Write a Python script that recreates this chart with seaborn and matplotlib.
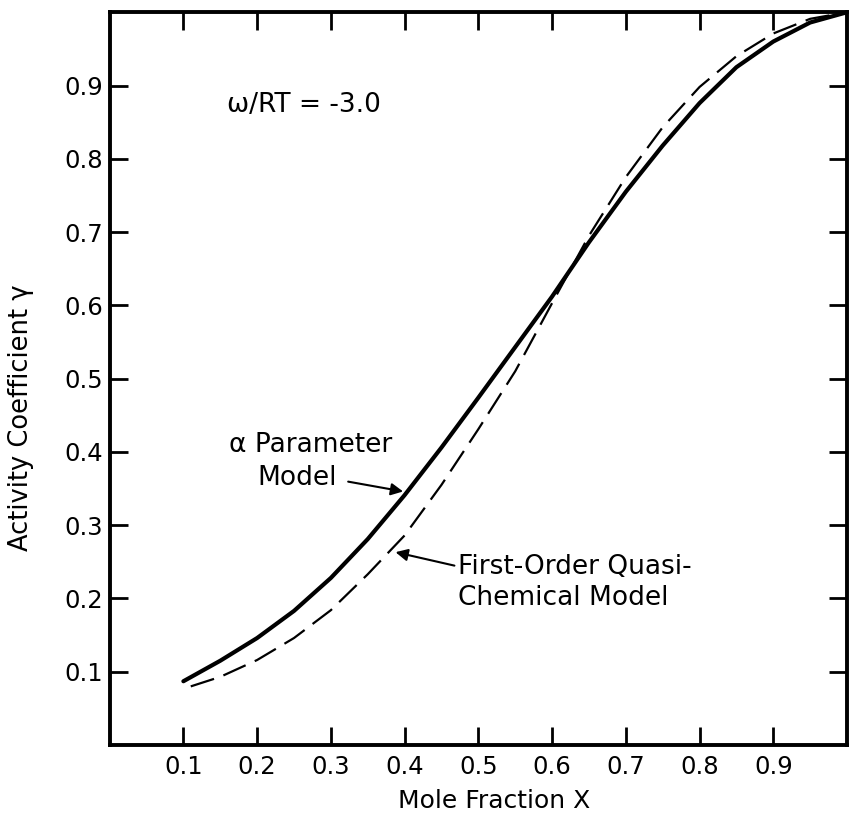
import numpy as np
import pandas as pd
import matplotlib
matplotlib.use("Agg")
import matplotlib.pyplot as plt
import seaborn as sns

# Data
x_alpha = [0.10, 0.15, 0.20, 0.25, 0.30, 0.35, 0.40, 0.45, 0.50, 0.55,
           0.60, 0.65, 0.70, 0.75, 0.80, 0.85, 0.90, 0.95, 1.00]
gamma_alpha = [0.087, 0.115, 0.146, 0.183, 0.228, 0.281, 0.341, 0.406, 0.474, 0.543,
               0.612, 0.686, 0.755, 0.818, 0.876, 0.925, 0.960, 0.986, 1.000]

x_quasi = [0.11, 0.15, 0.20, 0.25, 0.30, 0.35, 0.40, 0.45, 0.50, 0.55,
           0.60, 0.65, 0.70, 0.75, 0.80, 0.85, 0.90, 0.95, 1.00]
gamma_quasi = [0.080, 0.093, 0.116, 0.146, 0.184, 0.233, 0.286, 0.355, 0.431, 0.510,
               0.603, 0.695, 0.775, 0.843, 0.898, 0.940, 0.971, 0.991, 1.000]

tick_vals = [0.1, 0.2, 0.3, 0.4, 0.5, 0.6, 0.7, 0.8, 0.9]
tick_labels = ["0.1", "0.2", "0.3", "0.4", "0.5", "0.6", "0.7", "0.8", "0.9"]

df_alpha = pd.DataFrame({"x": x_alpha, "gamma": gamma_alpha})
df_quasi = pd.DataFrame({"x": x_quasi, "gamma": gamma_quasi})

sns.set_theme(style="ticks")
plt.rcParams["font.family"] = ["DejaVu Sans"]
plt.rcParams["text.color"] = "black"
plt.rcParams["axes.labelcolor"] = "black"
plt.rcParams["xtick.color"] = "black"
plt.rcParams["ytick.color"] = "black"

fig = plt.figure(figsize=(8.5, 8.16), dpi=100)
ax = fig.add_axes([0.129, 0.087, 0.8675, 0.898])

sns.lineplot(data=df_alpha, x="x", y="gamma", ax=ax, color="black",
             linewidth=3.0, sort=True, estimator=None)
sns.lineplot(data=df_quasi, x="x", y="gamma", ax=ax, color="black",
             linewidth=1.6, sort=True, estimator=None)
ax.lines[-1].set_dashes([11, 4.5])
for ln in ax.lines:
    ln.set_solid_capstyle("round")
    ln.set_solid_joinstyle("round")

ax.set_xlim(0, 1.0)
ax.set_ylim(0, 1.0)
ax.set_xticks(tick_vals)
ax.set_xticklabels(tick_labels)
ax.set_yticks(tick_vals)
ax.set_yticklabels(tick_labels)
ax.tick_params(direction="in", top=True, right=True, length=13, width=2,
               labelsize=17.5, colors="black")
ax.tick_params(axis="x", pad=7)
ax.tick_params(axis="y", pad=5)

for s in ax.spines.values():
    s.set_linewidth(2.8)
    s.set_color("black")
    s.set_visible(True)

ax.set_xlabel("Mole Fraction X", fontsize=18)
ax.set_ylabel("Activity Coefficient \u03b3", fontsize=18.5)
ax.xaxis.set_label_coords(0.522, -0.060)
ax.yaxis.set_label_coords(-0.103, 0.447)

ax.text(0.159, 0.874, "\u03c9/RT = -3.0", fontsize=19, ha="left", va="center")

ax.text(0.273, 0.41, "\u03b1 Parameter", fontsize=19, ha="center", va="center")
ax.annotate("Model", xy=(0.398, 0.346), xytext=(0.254, 0.364),
            fontsize=19, ha="center", va="center",
            arrowprops=dict(arrowstyle="-|>", color="black", lw=1.5,
                            mutation_scale=18, shrinkA=6, shrinkB=0,
                            relpos=(1.0, 0.45)))

ax.annotate("First-Order Quasi-\nChemical Model", xy=(0.384, 0.264), xytext=(0.472, 0.222),
            fontsize=19, ha="left", va="center", linespacing=1.25,
            arrowprops=dict(arrowstyle="-|>", color="black", lw=1.5,
                            mutation_scale=18, shrinkA=0, shrinkB=2,
                            relpos=(0.0, 0.78)))

fig.savefig("out.png", dpi=100)
